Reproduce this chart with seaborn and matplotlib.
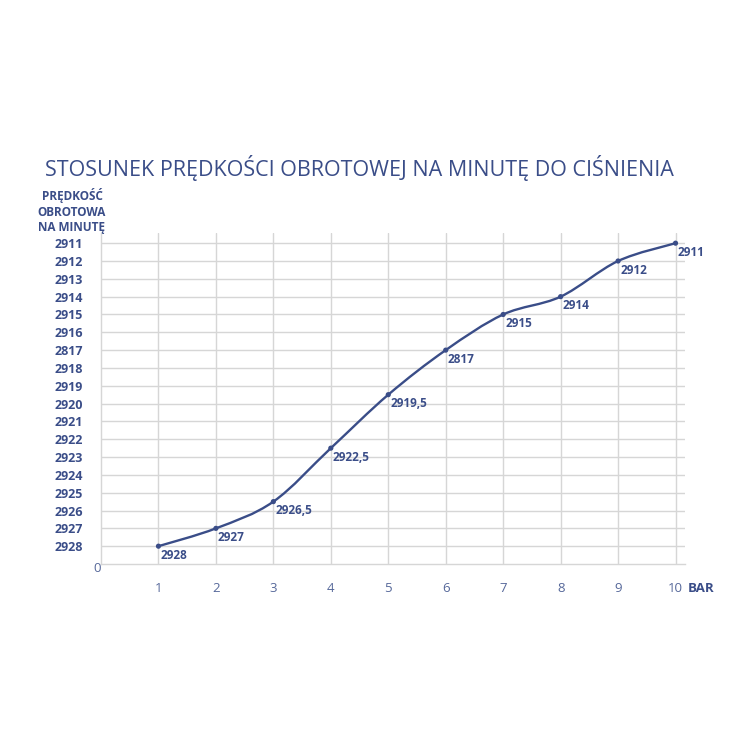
import numpy as np
import pandas as pd
import matplotlib
matplotlib.use("Agg")
import matplotlib.pyplot as plt
from matplotlib.path import Path
from matplotlib.patches import PathPatch
import seaborn as sns

# dane
cisnienie = [1, 2, 3, 4, 5, 6, 7, 8, 9, 10]
predkosc = [2928, 2927, 2925.5, 2922.5, 2919.5, 2917, 2915, 2914, 2912, 2911]
etykiety = ["2928", "2927", "2926,5", "2922,5", "2919,5", "2817", "2915", "2914", "2912", "2911"]

skala_wart = list(range(2911, 2929))
skala_tekst = ["2911", "2912", "2913", "2914", "2915", "2916", "2817", "2918", "2919",
               "2920", "2921", "2922", "2923", "2924", "2925", "2926", "2927", "2928"]

df = pd.DataFrame({"bar": cisnienie, "obroty": predkosc, "opis": etykiety})

GRANAT = "#3a4d88"
SZARY = "#d6d6d6"
JASNY = "#56689a"

sns.set_theme(style="white")
plt.rcParams['font.family'] = ['Open Sans', 'DejaVu Sans']

fig = plt.figure(figsize=(7.5, 7.5), dpi=100)
ax = fig.add_axes([101 / 750, 1 - 564 / 750, 584.3 / 750, 330.8 / 750])

# siatka
ax.set_xlim(0, 10.17)
ax.set_ylim(2929, 2929 - 18.56)
ax.set_xticks(cisnienie)
ax.set_xticklabels([str(c) for c in cisnienie], color=JASNY, fontsize=9.5)
ax.set_yticks(skala_wart)
ax.set_yticklabels(skala_tekst, color=GRANAT, fontsize=9, fontweight="bold")
ax.grid(True, color=SZARY, linewidth=1)
ax.tick_params(axis="y", length=11.5, color=SZARY, width=1, pad=1.5)
ax.tick_params(axis="x", length=5.8, color=SZARY, width=1, pad=7)
for s in ["top", "right"]:
    ax.spines[s].set_visible(False)
for s in ["left", "bottom"]:
    ax.spines[s].set_color(SZARY)
    ax.spines[s].set_linewidth(1)

# wygladzona linia (Catmull-Rom -> Bezier)
pts = np.column_stack([df["bar"], df["obroty"]])
ext = np.vstack([pts[0], pts, pts[-1]])
verts = [tuple(pts[0])]
codes = [Path.MOVETO]
for i in range(1, len(ext) - 2):
    p0, p1, p2, p3 = ext[i - 1], ext[i], ext[i + 1], ext[i + 2]
    c1 = p1 + (p2 - p0) / 6
    c2 = p2 - (p3 - p1) / 6
    verts += [tuple(c1), tuple(c2), tuple(p2)]
    codes += [Path.CURVE4] * 3
ax.add_patch(PathPatch(Path(verts, codes), facecolor="none", edgecolor=GRANAT, lw=1.7,
                       zorder=3, clip_on=False))

sns.scatterplot(data=df, x="bar", y="obroty", color=GRANAT, s=14, edgecolor="none",
                ax=ax, zorder=4, clip_on=False)

for _, r in df.iterrows():
    ax.annotate(r["opis"], (r["bar"], r["obroty"]), xytext=(1.5, -2),
                textcoords="offset points", ha="left", va="top",
                fontsize=8.5, fontweight="bold", color=GRANAT)

ax.set_xlabel("")
ax.set_ylabel("")

# opisy
fig.text(359 / 750, 1 - 168 / 750, "STOSUNEK PRĘDKOŚCI OBROTOWEJ NA MINUTĘ DO CIŚNIENIA",
         ha="center", va="center", fontsize=15.5, color=GRANAT)
fig.text(72 / 750, 1 - 211 / 750, "PRĘDKOŚĆ\nOBROTOWA\nNA MINUTĘ", ha="center", va="center",
         fontsize=8.5, fontweight="bold", color=GRANAT, linespacing=1.25)
fig.text(688 / 750, 1 - 588 / 750, "BAR", ha="left", va="center",
         fontsize=9.5, fontweight="bold", color=GRANAT)
fig.text(97 / 750, 1 - 569 / 750, "0", ha="center", va="center",
         fontsize=9.5, color=JASNY)

fig.savefig("out.png", dpi=100, facecolor="white")
